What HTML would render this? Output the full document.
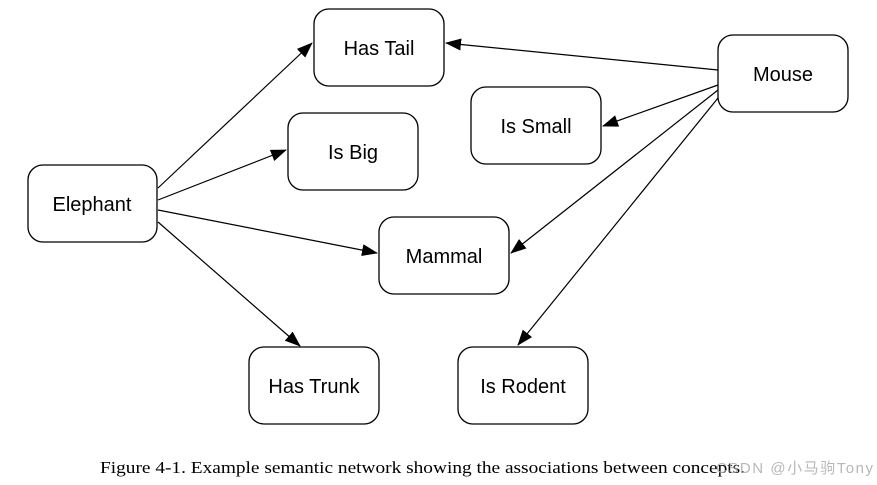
<!DOCTYPE html>
<html><head><meta charset="utf-8"><style>
html,body{margin:0;padding:0;background:#fff;width:877px;height:485px;overflow:hidden}
</style></head><body>
<svg width="877" height="485" viewBox="0 0 877 485" xmlns="http://www.w3.org/2000/svg">
<defs><marker id="a" markerWidth="16" markerHeight="12" refX="15" refY="6" orient="auto" markerUnits="userSpaceOnUse"><path d="M0,0 L16,6 L0,12 z" fill="#000"/></marker></defs>
<g fill="#fff" stroke="#000" stroke-width="1.3">
<rect x="314" y="9" width="130" height="77" rx="15"/>
<rect x="288" y="113" width="130" height="77" rx="15"/>
<rect x="28" y="165" width="129" height="77" rx="15"/>
<rect x="379" y="217" width="130" height="77" rx="15"/>
<rect x="249" y="347" width="130" height="77" rx="15"/>
<rect x="458" y="347" width="130" height="77" rx="15"/>
<rect x="471" y="87" width="130" height="77" rx="15"/>
<rect x="718" y="35" width="130" height="77" rx="15"/>
</g>
<g stroke="#000" stroke-width="1.2" marker-end="url(#a)">
<line x1="158" y1="188" x2="312" y2="43"/>
<line x1="158" y1="200" x2="286" y2="150"/>
<line x1="158" y1="210" x2="377" y2="253"/>
<line x1="158" y1="222" x2="300" y2="346"/>
<line x1="718" y1="70" x2="446" y2="43"/>
<line x1="718" y1="85" x2="603" y2="126"/>
<line x1="718" y1="90" x2="511" y2="253"/>
<line x1="718" y1="98" x2="518" y2="345"/>
</g>
<g font-family="Liberation Sans, Arial, sans-serif" font-size="20" text-anchor="middle" fill="#000">
<text x="379" y="55">Has Tail</text>
<text x="353" y="159">Is Big</text>
<text x="92" y="211">Elephant</text>
<text x="444" y="263">Mammal</text>
<text x="314" y="393">Has Trunk</text>
<text x="523" y="393">Is Rodent</text>
<text x="536" y="133">Is Small</text>
<text x="783" y="81">Mouse</text>
</g>
<text x="100" y="473" font-family="Liberation Serif, serif" font-size="17" textLength="645" lengthAdjust="spacingAndGlyphs">Figure 4-1. Example semantic network showing the associations between concepts.</text>
<text x="716" y="473" font-family="Liberation Sans, 'Noto Sans CJK SC', sans-serif" font-size="15" fill="#aaa" fill-opacity="0.85" textLength="157">CSDN @小马驹Tony</text>
</svg>
</body></html>
